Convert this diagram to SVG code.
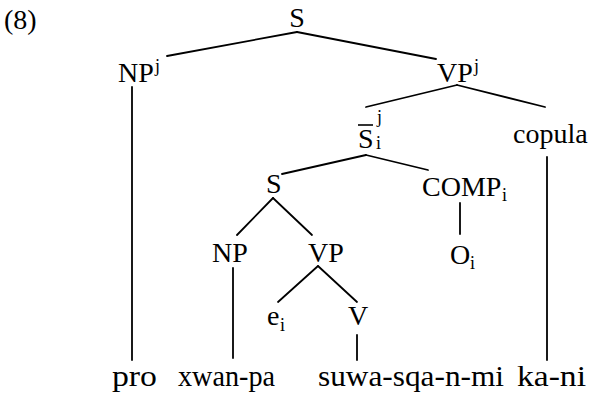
<svg xmlns="http://www.w3.org/2000/svg" width="592" height="397" viewBox="0 0 592 397">
<style>
text{font-family:"Liberation Serif","Times New Roman",serif;font-size:28px;fill:#000}
.sm{font-size:18px}
.w{font-size:29px}
.c line{stroke:#000;stroke-width:1.8;stroke-linecap:round}
.bar{stroke:#000;stroke-width:1.6}
</style>
<rect width="592" height="397" fill="#fff"/>
<g id="label"><text x="4" y="29">(8)</text></g>
<g class="c" id="connectors">
<line x1="297" y1="32" x2="167" y2="56"/>
<line x1="297" y1="32" x2="436" y2="59"/>
<line x1="132" y1="87" x2="132" y2="360"/>
<line x1="457" y1="85" x2="366" y2="107"/>
<line x1="457" y1="85" x2="545" y2="107"/>
<line x1="366" y1="155" x2="282" y2="174"/>
<line x1="366" y1="155" x2="428" y2="170"/>
<line x1="547" y1="157" x2="547" y2="360"/>
<line x1="273" y1="198" x2="237" y2="235"/>
<line x1="273" y1="198" x2="312" y2="235"/>
<line x1="460" y1="203" x2="460" y2="234"/>
<line x1="233" y1="268" x2="233" y2="358"/>
<line x1="318" y1="266" x2="278" y2="302"/>
<line x1="318" y1="266" x2="357" y2="302"/>
<line x1="357" y1="335" x2="357" y2="360"/>
</g>
<g id="S0"><text x="297" y="27" text-anchor="middle">S</text></g>
<g id="NPj"><text x="118" y="82">NP</text><text class="sm" x="155" y="72">j</text></g>
<g id="VPj"><text x="437" y="82">VP</text><text class="sm" x="474" y="72">j</text></g>
<g id="Sbar"><line class="bar" x1="358" y1="125" x2="373" y2="125"/><text x="358" y="148">S</text><text class="sm" x="377" y="123">j</text><text class="sm" x="376" y="149">i</text></g>
<g id="copula"><text x="513" y="143">copula</text></g>
<g id="S1"><text x="266" y="193">S</text></g>
<g id="COMP"><text x="422" y="196">COMP</text><text class="sm" x="502" y="201">i</text></g>
<g id="NP"><text x="212" y="262">NP</text></g>
<g id="VP"><text x="308" y="262">VP</text></g>
<g id="Oi"><text x="450" y="264">O</text><text class="sm" x="470" y="269">i</text></g>
<g id="ei"><text x="267" y="325">e</text><text class="sm" x="280" y="331">i</text></g>
<g id="V"><text x="348" y="325">V</text></g>
<g id="pro"><text class="w" x="112" y="386" textLength="45" lengthAdjust="spacingAndGlyphs">pro</text></g>
<g id="xwanpa"><text class="w" x="178" y="386" textLength="97" lengthAdjust="spacingAndGlyphs">xwan-pa</text></g>
<g id="suwa"><text class="w" x="318" y="386" textLength="186" lengthAdjust="spacingAndGlyphs">suwa-sqa-n-mi</text></g>
<g id="kani"><text class="w" x="517" y="386" textLength="69" lengthAdjust="spacingAndGlyphs">ka-ni</text></g>
</svg>
